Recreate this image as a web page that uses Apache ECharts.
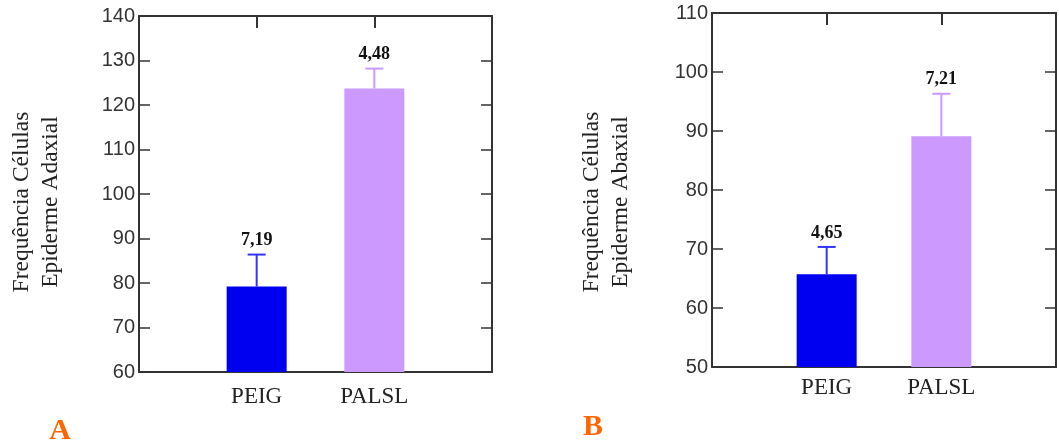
<!DOCTYPE html>
<html>
<head>
<meta charset="utf-8">
<script src="https://cdn.jsdelivr.net/npm/echarts@6/dist/echarts.min.js"></script>
<style>
html,body{margin:0;padding:0;background:#fff;}
#chart{width:1059px;height:445px;}
</style>
</head>
<body>
<div id="chart"></div>
<script>
// ---- data ----
const categories = ['PEIG', 'PALSL'];
const meansA = [79.2, 123.7];      // Epiderme Adaxial
const errsA = [7.19, 4.48];
const meansB = [65.7, 89.1];       // Epiderme Abaxial
const errsB = [4.65, 7.21];
const yRangeA = [60, 140];
const yRangeB = [50, 110];
const yStep = 10;
const yNameA = 'Frequência Células\nEpiderme Adaxial';
const yNameB = 'Frequência Células\nEpiderme Abaxial';
const panelLabels = ['A', 'B'];

// ---- styles ----
const barColors = ['#0000F0', '#CC99FF'];
const errColors = ['#3333FF', '#CC99FF'];
const axisColor = '#333';
const axisCats = [''].concat(categories, ['']);

const chart = echarts.init(document.getElementById('chart'));

function fmt(v) { return v.toFixed(2).replace('.', ','); }

function xAxes(gridIndex, labelMargin) {
  return [
    {
      type: 'category', gridIndex, data: axisCats, boundaryGap: false, position: 'bottom',
      axisLine: { lineStyle: { color: axisColor, width: 2 } },
      axisTick: { show: false },
      axisLabel: { interval: 0, margin: labelMargin, color: '#222', fontFamily: 'Liberation Serif', fontSize: 23 },
      splitLine: { show: false }
    },
    {
      type: 'category', gridIndex, data: axisCats, boundaryGap: false, position: 'top',
      axisLine: { lineStyle: { color: axisColor, width: 2 } },
      axisTick: { show: true, inside: true, length: 12, interval: (i) => i === 1 || i === 2, lineStyle: { color: axisColor, width: 2 } },
      axisLabel: { show: false },
      splitLine: { show: false }
    }
  ];
}

function yAxes(gridIndex, range) {
  return [
    {
      type: 'value', gridIndex, min: range[0], max: range[1], interval: yStep, position: 'left',
      axisLine: { show: true, lineStyle: { color: axisColor, width: 2 } },
      axisTick: { show: true, inside: true, length: 11, lineStyle: { color: axisColor, width: 1.5 } },
      axisLabel: { margin: 4, color: '#333', fontFamily: 'Liberation Sans', fontSize: 20, padding: [7, 0, 0, 0] },
      splitLine: { show: false }
    },
    {
      type: 'value', gridIndex, min: range[0], max: range[1], interval: yStep, position: 'right',
      axisLine: { show: true, lineStyle: { color: axisColor, width: 2 } },
      axisTick: { show: true, inside: true, length: 11, lineStyle: { color: axisColor, width: 1.5 } },
      axisLabel: { show: false },
      splitLine: { show: false }
    }
  ];
}

function barSeries(axisIdx, means) {
  return {
    type: 'bar', xAxisIndex: axisIdx, yAxisIndex: axisIdx, barWidth: 60,
    data: categories.map((c, i) => ({ value: [c, means[i]], itemStyle: { color: barColors[i] } })),
    z: 2
  };
}

function errSeries(axisIdx, means, errs) {
  return {
    type: 'custom', xAxisIndex: axisIdx, yAxisIndex: axisIdx, z: 3,
    data: categories.map((c, i) => [c, means[i], errs[i], i]),
    renderItem: function (params, api) {
      const x = api.value(0);
      const m = api.value(1);
      const e = api.value(2);
      const idx = api.value(3);
      const p0 = api.coord([x, m]);
      const p1 = api.coord([x, m + e]);
      const col = errColors[idx];
      const half = 9;
      return {
        type: 'group',
        children: [
          { type: 'line', shape: { x1: p0[0], y1: p0[1], x2: p1[0], y2: p1[1] }, style: { stroke: col, lineWidth: 2 } },
          { type: 'line', shape: { x1: p1[0] - half, y1: p1[1], x2: p1[0] + half, y2: p1[1] }, style: { stroke: col, lineWidth: 2 } },
          { type: 'text', x: p1[0], y: p1[1] - 5, style: { text: fmt(e), fill: '#111', font: 'bold 18px "Liberation Serif"', align: 'center', verticalAlign: 'bottom' } }
        ]
      };
    }
  };
}

const option = {
  animation: false,
  backgroundColor: '#fff',
  grid: [
    { left: 139, top: 16, width: 353, height: 356 },
    { left: 712, top: 13, width: 352, height: 354 }
  ],
  xAxis: xAxes(0, 13).concat(xAxes(1, 9)),
  yAxis: yAxes(0, yRangeA).concat(yAxes(1, yRangeB)),
  series: [
    barSeries(0, meansA),
    errSeries(0, meansA, errsA),
    barSeries(2, meansB),
    errSeries(2, meansB, errsB)
  ],
  graphic: [
    { type: 'text', x: 36, y: 202, rotation: Math.PI / 2, style: { text: yNameA, fill: '#222', font: '23.5px "Liberation Serif"', lineHeight: 29, align: 'center', verticalAlign: 'middle' } },
    { type: 'text', x: 606, y: 202, rotation: Math.PI / 2, style: { text: yNameB, fill: '#222', font: '23.5px "Liberation Serif"', lineHeight: 29, align: 'center', verticalAlign: 'middle' } },
    { type: 'text', x: 60, y: 431, style: { text: panelLabels[0], fill: '#FF6600', font: 'bold 30px "Liberation Serif"', align: 'center', verticalAlign: 'middle' } },
    { type: 'text', x: 593, y: 427, style: { text: panelLabels[1], fill: '#FF6600', font: 'bold 30px "Liberation Serif"', align: 'center', verticalAlign: 'middle' } }
  ]
};
chart.setOption(option);
</script>
</body>
</html>
